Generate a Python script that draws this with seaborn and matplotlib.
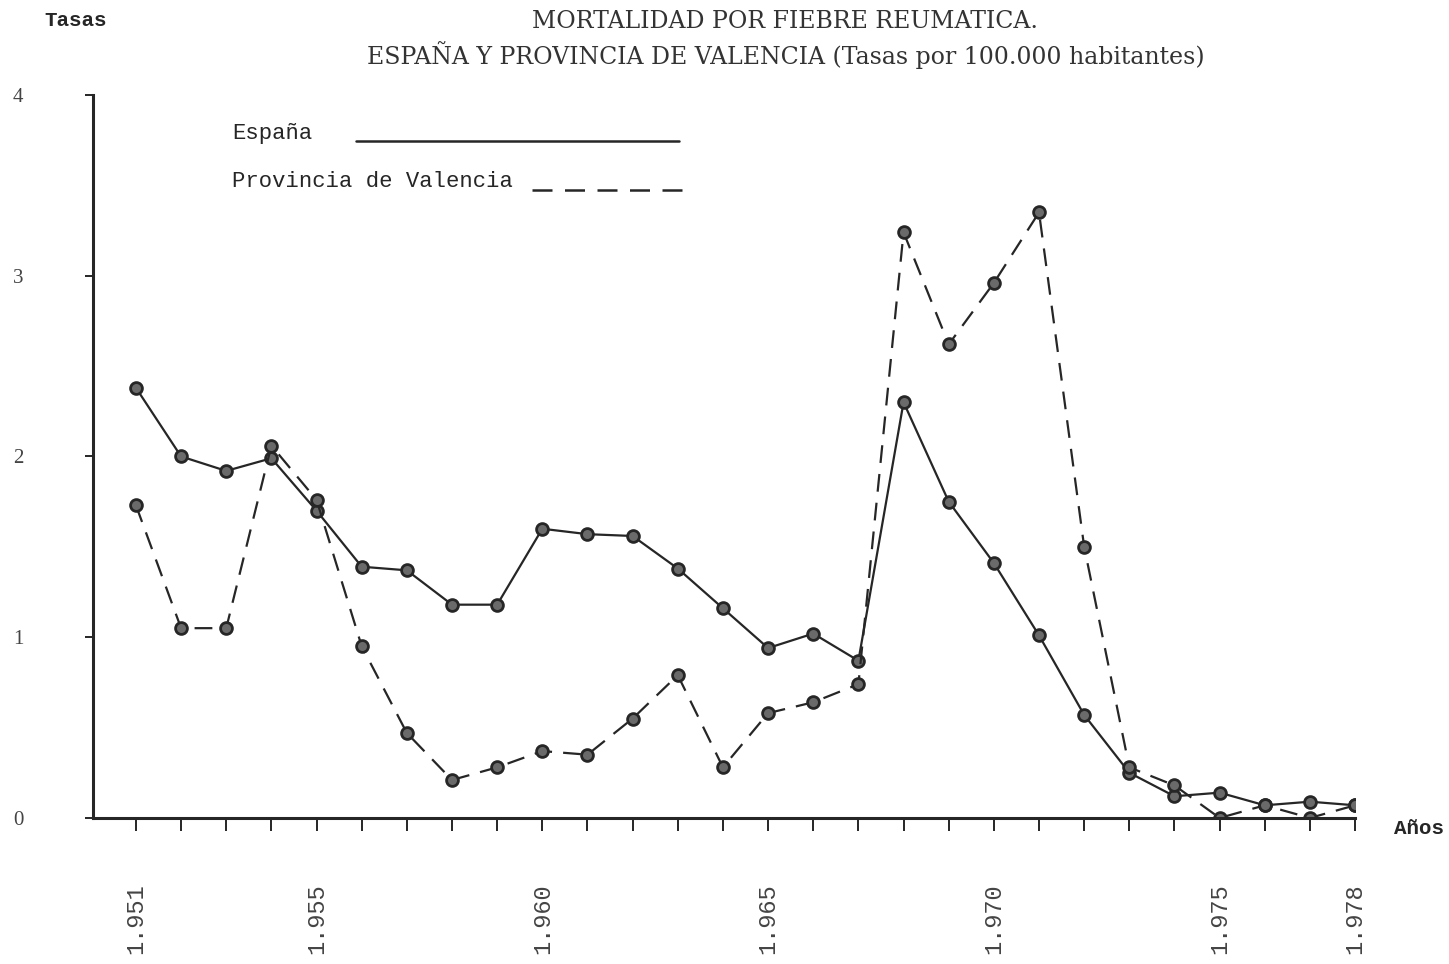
import pandas as pd
import seaborn as sns
import matplotlib.pyplot as plt

# Data (tasas por 100.000 habitantes)
years = list(range(1951, 1979))
espana = [2.38, 2.00, 1.92, 1.99, 1.70, 1.39, 1.37, 1.18, 1.18, 1.60,
          1.57, 1.56, 1.38, 1.16, 0.94, 1.02, 0.87, 2.30, 1.75, 1.41,
          1.01, 0.57, 0.25, 0.12, 0.14, 0.07, 0.09, 0.07]
valencia = [1.73, 1.05, 1.05, 2.06, 1.76, 0.95, 0.47, 0.21, 0.28, 0.37,
            0.35, 0.55, 0.79, 0.28, 0.58, 0.64, 0.74, 3.24, 2.62, 2.96,
            3.35, 1.50, 0.28, 0.18, 0.00, 0.07, 0.00, 0.07]
label_years = [1951, 1955, 1960, 1965, 1970, 1975, 1978]
y_ticks = [0, 1, 2, 3, 4]

df = pd.DataFrame({
    'year': years * 2,
    'rate': espana + valencia,
    'serie': ['España'] * len(years) + ['Provincia de Valencia'] * len(years),
})

sns.set_style("white")
plt.rcParams['font.family'] = ['Liberation Serif', 'DejaVu Serif']

ink = '#262626'
fig = plt.figure(figsize=(14.49, 9.64), dpi=100)
ax = fig.add_axes([0.0642, 0.1515, 0.871, 0.75])

sns.lineplot(data=df, x='year', y='rate', style='serie',
             dashes={'España': '', 'Provincia de Valencia': (8, 5)},
             markers={'España': 'o', 'Provincia de Valencia': 'o'},
             color=ink, linewidth=1.6, markersize=8.5, markerfacecolor='#6a6a6a',
             markeredgecolor=ink, markeredgewidth=2, legend=False, ax=ax)

ax.set_xlim(1950.05, 1978)
ax.set_ylim(0, 4)

# Axes: only left and bottom, thick
sns.despine(ax=ax)
for side in ['left', 'bottom']:
    ax.spines[side].set_linewidth(2.2)
    ax.spines[side].set_color(ink)

ax.set_xticks(years, minor=True)
ax.set_xticks(label_years)
ax.set_xticklabels(['1.' + str(y)[1:] for y in label_years], rotation=90,
                   family=['Liberation Mono', 'DejaVu Sans Mono'],
                   fontsize=17, color='#444444')
ax.tick_params(axis='x', which='both', direction='out', length=9, width=1.4,
               color=ink, pad=38, bottom=True)
ax.tick_params(axis='x', which='minor', length=9)

ax.set_yticks(y_ticks)
ax.set_yticklabels([str(v) for v in y_ticks], fontsize=15, color='#444444')
ax.tick_params(axis='y', direction='out', length=6, width=1.4, color=ink,
               pad=44, left=True)

ax.set_xlabel('')
ax.set_ylabel('')

# Legend drawn in the style of the original
mono = ['Liberation Mono', 'DejaVu Sans Mono']
ax.text(0.110, 0.947, 'España', transform=ax.transAxes, fontsize=16,
        family=mono, color=ink, va='center')
ax.plot([0.208, 0.464], [0.936, 0.936], transform=ax.transAxes,
        color=ink, linewidth=1.8)
ax.text(0.110, 0.880, 'Provincia de Valencia', transform=ax.transAxes,
        fontsize=16, family=mono, color=ink, va='center')
ax.plot([0.348, 0.468], [0.869, 0.869], transform=ax.transAxes,
        color=ink, linewidth=1.8, linestyle=(0, (8, 5)))

# Titles and axis captions
serif = ['DejaVu Serif']
fig.text(0.542, 0.978, 'MORTALIDAD POR FIEBRE REUMATICA.', ha='center',
         va='center', fontsize=17, family=serif, color='#333333')
fig.text(0.542, 0.943, 'ESPAÑA Y PROVINCIA DE VALENCIA (Tasas por 100.000 habitantes)',
         ha='center', va='center', fontsize=17, family=serif, color='#333333')
fig.text(0.052, 0.979, 'Tasas', ha='center', va='center', fontsize=15,
         fontweight='bold', family=mono, color=ink)
fig.text(0.979, 0.141, 'Años', ha='center', va='center', fontsize=15,
         fontweight='bold', family=mono, color=ink)

fig.savefig('out.png', dpi=100, facecolor='white')
